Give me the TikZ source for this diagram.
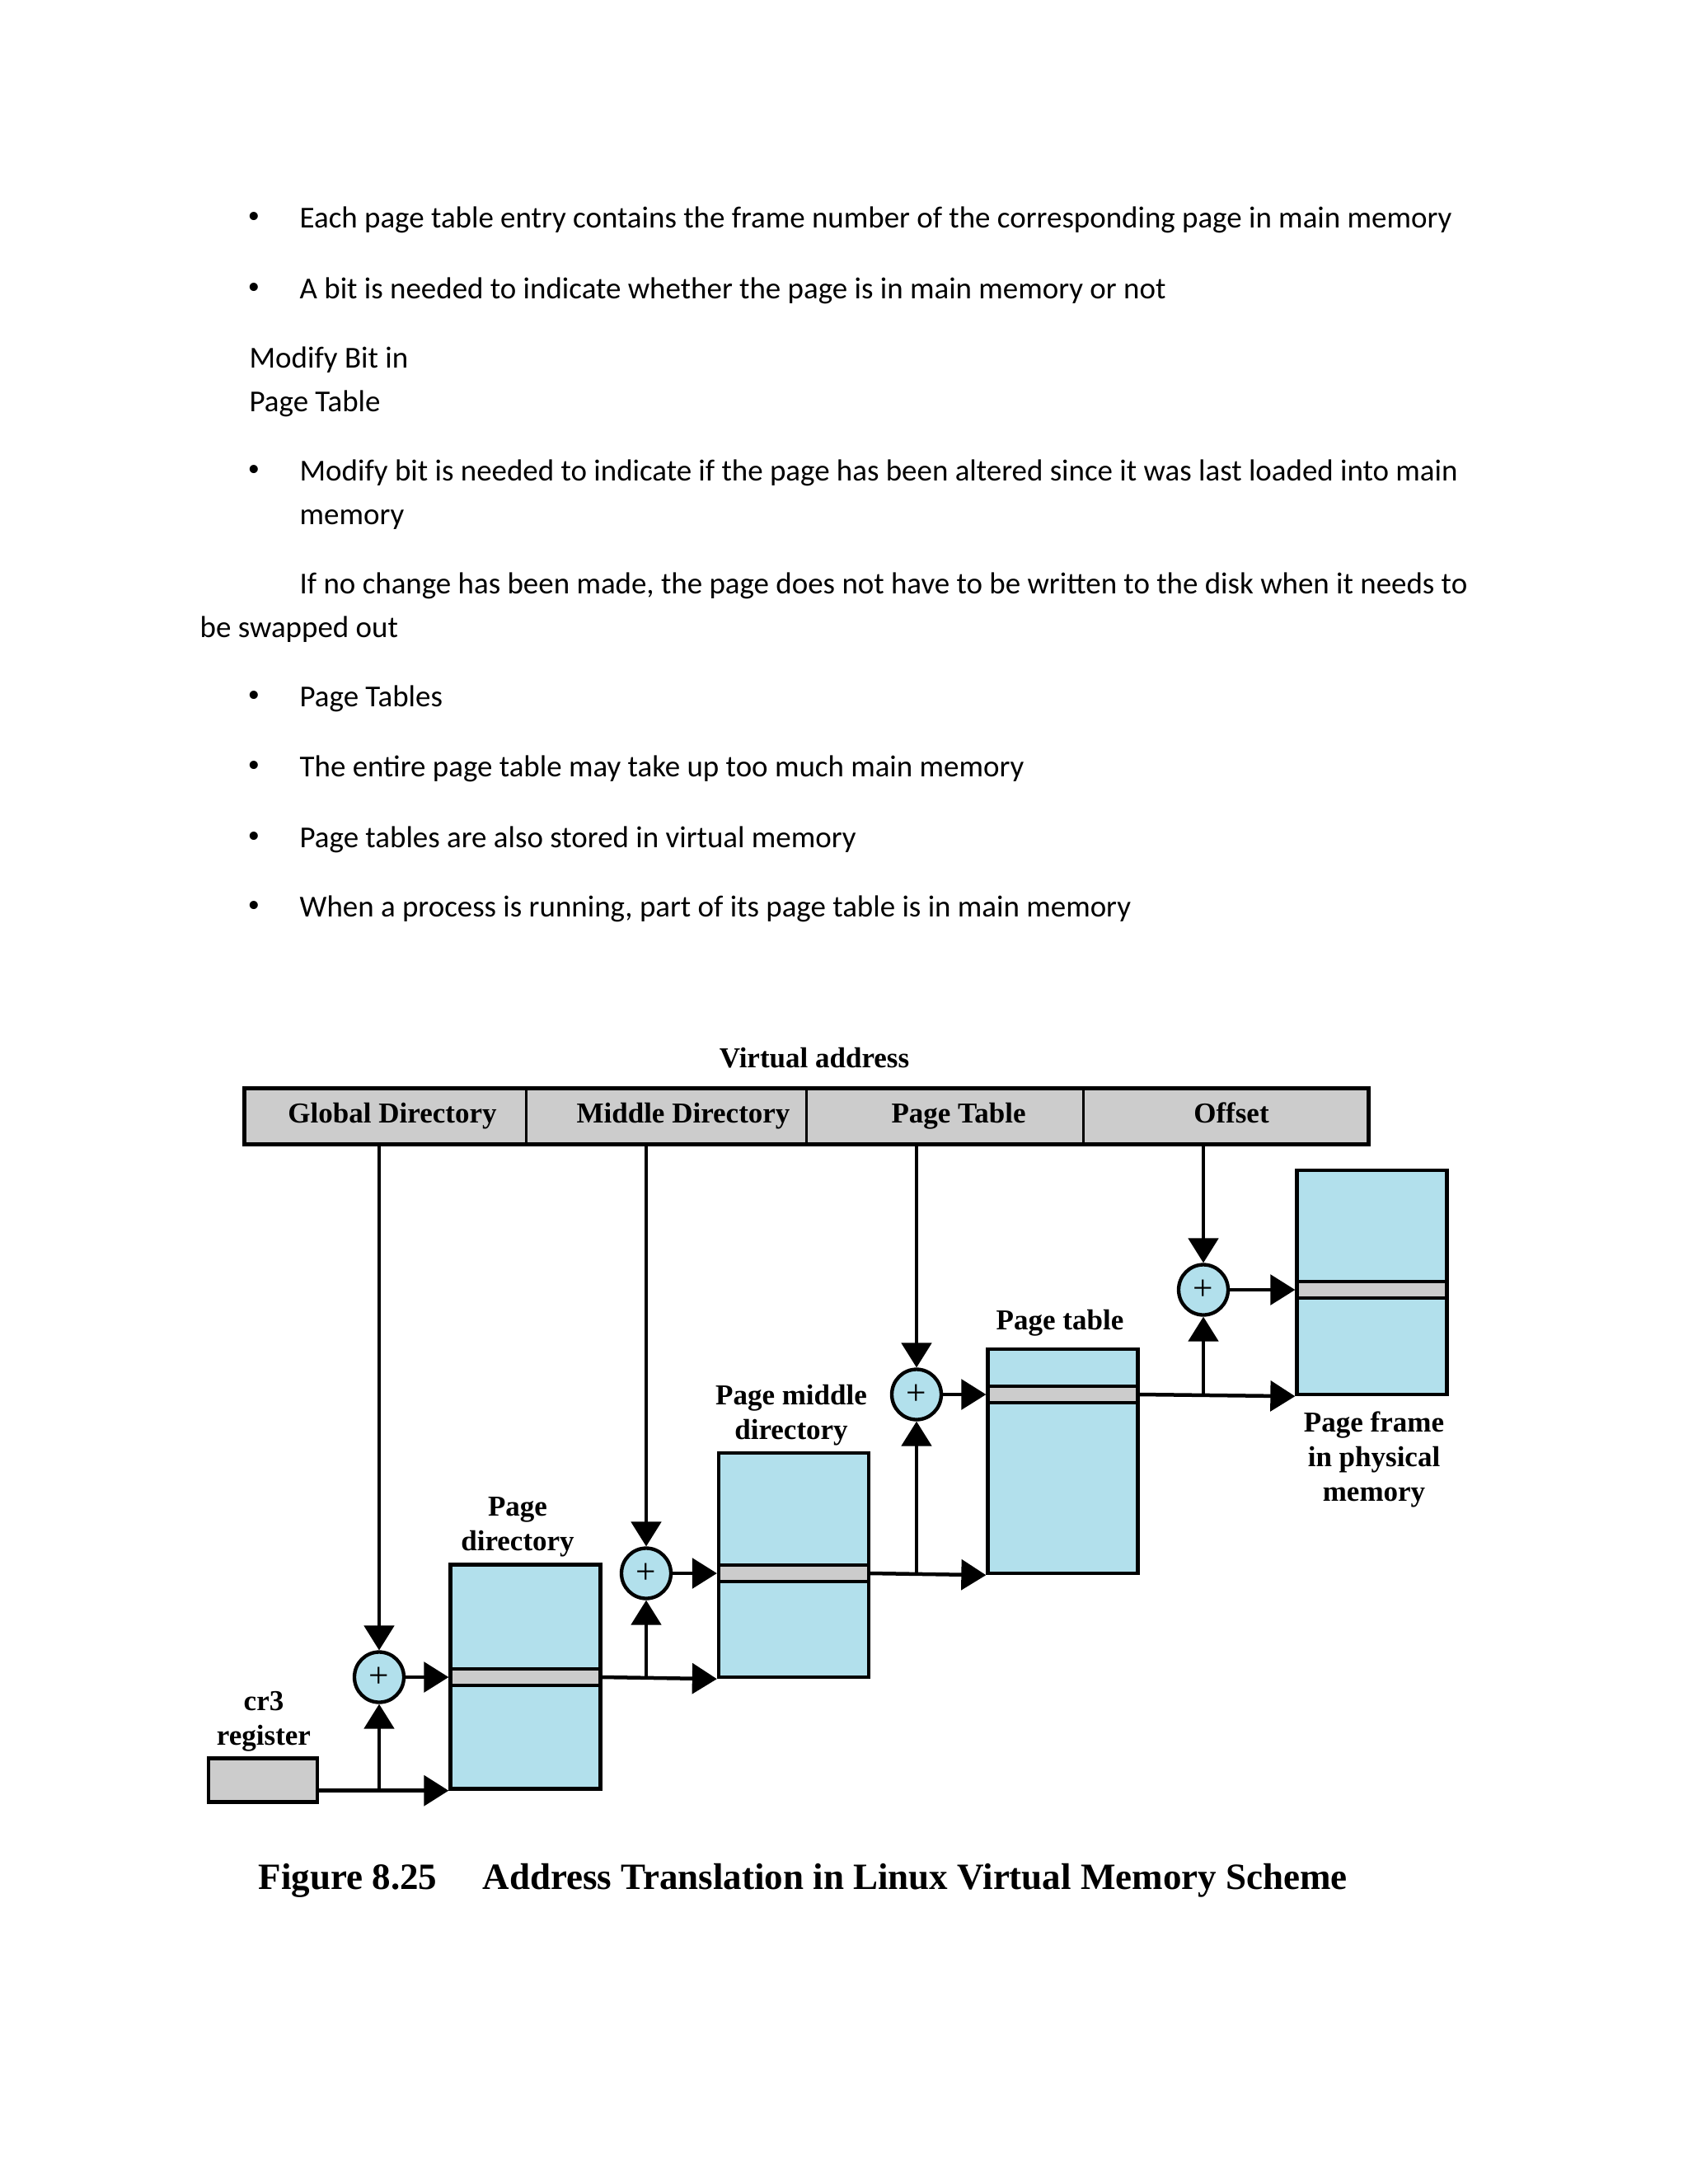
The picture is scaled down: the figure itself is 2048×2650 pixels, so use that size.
\documentclass[tikz,border=0pt]{standalone}
\usepackage{fontspec}
\setmainfont{Carlito}
\newfontfamily\figfont{Liberation Serif}
\usetikzlibrary{arrows.meta,shapes.geometric}
\definecolor{tblblue}{RGB}{178,224,236}
\definecolor{bargray}{RGB}{204,204,204}
\begin{document}
\begin{tikzpicture}[x=0.3pt,y=-0.3pt,
  body/.style={font=\fontsize{11.08}{13}\selectfont, anchor=base west, inner sep=0pt},
  bul/.style={font=\fontsize{8.5}{10}\selectfont, anchor=center, inner sep=0pt},
  lbl/.style={font=\figfont\bfseries\fontsize{10.5}{12.6}\selectfont, inner sep=0pt, align=center},
  field/.style={draw, line width=0.9pt, fill=bargray, minimum height={66*0.3pt}, inner sep=0pt, anchor=north west},
  tbl/.style={draw, line width=1.3pt, fill=tblblue, minimum width={182*0.3pt}, minimum height={272*0.3pt}, inner sep=0pt},
  stripe/.style={draw, line width=1.3pt, fill=bargray, minimum width={182*0.3pt}, minimum height={20*0.3pt}, inner sep=0pt},
  adder/.style={ellipse, draw, line width=1.3pt, fill=tblblue, minimum width={60*0.3pt}, minimum height={61*0.3pt}, inner sep=0pt, font=\figfont\fontsize{13}{13}\selectfont},
  thinln/.style={line width=0.95pt},
  midln/.style={line width=1.1pt},
  thickln/.style={line width=1.35pt},
  tip/.style={-{Triangle[length=9pt,width=11pt]}}
]
\useasboundingbox[fill=white] (0,0) rectangle (2048,2650);

% ---- body text ----
\node[bul] (b1) at (308,264) {•};
\node[body] (t1) at (363,276) {Each page table entry contains the frame number of the corresponding page in main memory};
\node[bul] (b2) at (308,350) {•};
\node[body] (t2) at (363,362) {A bit is needed to indicate whether the page is in main memory or not};
\node[body] (t3) at (302,446) {Modify Bit in};
\node[body] (t4) at (302,499) {Page Table};
\node[bul] (b5) at (308,571) {•};
\node[body] (t5) at (363,583) {Modify bit is needed to indicate if the page has been altered since it was last loaded into main};
\node[body] (t6) at (363,636) {memory};
\node[body] (t7) at (363,720) {If no change has been made, the page does not have to be written to the disk when it needs to};
\node[body] (t8) at (242,773) {be swapped out};
\node[bul] (b9) at (308,845) {•};
\node[body] (t9) at (363,857) {Page Tables};
\node[bul] (b10) at (308,930) {•};
\node[body] (t10) at (363,942) {The entire page table may take up too much main memory};
\node[bul] (b11) at (308,1016) {•};
\node[body] (t11) at (363,1028) {Page tables are also stored in virtual memory};
\node[bul] (b12) at (308,1100) {•};
\node[body] (t12) at (363,1112) {When a process is running, part of its page table is in main memory};

% ---- virtual address bar ----
\node[lbl] (va) at (988,1284) {Virtual address};
\node[field, minimum width={341*0.3pt}] (gd) at (296,1320) {};
\node[field, minimum width={340*0.3pt}] (md) at (637,1320) {};
\node[field, minimum width={336*0.3pt}] (ptf) at (977,1320) {};
\node[field, minimum width={345*0.3pt}] (off) at (1313,1320) {};
\draw[line width=1.4pt] (gd.north west) rectangle (off.south east);
\node[lbl, anchor=base] (gdl) at (476,1362) {Global Directory};
\node[lbl, anchor=base] (mdl) at (829,1362) {Middle Directory};
\node[lbl, anchor=base] (ptl) at (1163,1362) {Page Table};
\node[lbl, anchor=base] (offl) at (1494,1362) {Offset};

% ---- tables ----
\node[tbl] (pd) at (637.5,2034.5) {};
\node[stripe] (pds) at (637.5,2035) {};
\node[tbl] (pmd) at (963,1899) {};
\node[stripe] (pmds) at (963,1909) {};
\node[tbl] (pt) at (1289.5,1773) {};
\node[stripe] (pts) at (1289.5,1692) {};
\node[tbl] (pf) at (1664.5,1556) {};
\node[stripe] (pfs) at (1664.5,1565) {};

\node[draw, line width=1.4pt, fill=bargray, minimum width={132*0.3pt}, minimum height={53*0.3pt}, inner sep=0pt] (cr3) at (319,2160) {};

% ---- adders ----
\node[adder] (a1) at (460,2035) {+};
\node[adder] (a2) at (784,1909) {+};
\node[adder] (a3) at (1112,1692) {+};
\node[adder] (a4) at (1460,1565) {+};

% ---- labels ----
\node[lbl] (pdl) at (628,1853) {Page\\directory};
\node[lbl] (pmdl) at (960,1717) {Page middle\\directory};
\node[lbl] (ptbl) at (1286,1605) {Page table};
\node[lbl] (pfl) at (1667,1771) {Page frame\\in physical\\memory};
\node[lbl] (cr3l) at (320,2089) {cr3\\register};

% ---- connectors ----
\draw[thinln,tip] (gd.south -| a1) -- (a1.north);
\draw[thinln,tip] (md.south -| a2) -- (a2.north);
\draw[thinln,tip] (ptf.south -| a3) -- (a3.north);
\draw[thinln,tip] (off.south -| a4) -- (a4.north);

\draw[thickln,tip] (cr3.east |- pd.south) -- (pd.south west);
\draw[thinln,tip] (pd.south -| a1) -- (a1.south);
\draw[midln,tip] (a1.east) -- (pds.west);

\draw[thickln,tip] (pds.east) -- (pmd.south west);
\draw[thinln,tip] (pds.east -| a2) -- (a2.south);
\draw[midln,tip] (a2.east) -- (pmds.west);

\draw[thickln,tip] (pmds.east) -- (pt.south west);
\draw[thinln,tip] (pmds.east -| a3) -- (a3.south);
\draw[midln,tip] (a3.east) -- (pts.west);

\draw[thickln,tip] (pts.east) -- (pf.south west);
\draw[thinln,tip] (pts.east -| a4) -- (a4.south);
\draw[midln,tip] (a4.east) -- (pfs.west);

% ---- caption ----
\node[font=\figfont\bfseries\fontsize{13.5}{16}\selectfont, anchor=base west, inner sep=0pt] (figno) at (313,2292) {Figure 8.25};
\node[font=\figfont\bfseries\fontsize{13.5}{16}\selectfont, anchor=base west, inner sep=0pt] (cap) at (585,2292) {Address Translation in Linux Virtual Memory Scheme};
\end{tikzpicture}
\end{document}
